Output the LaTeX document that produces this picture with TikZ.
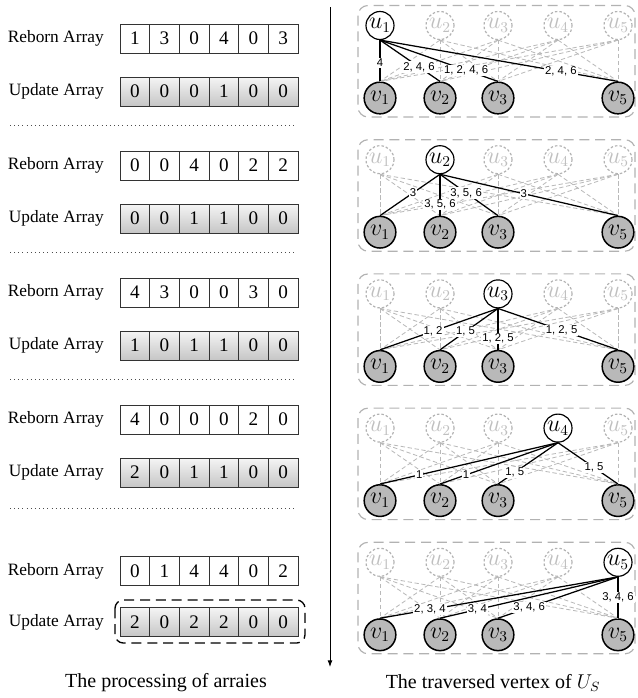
\documentclass[tikz,border=0pt]{standalone}
\usepackage{fontspec}
\setmainfont{Liberation Serif}
\newfontfamily\edgefont{Liberation Sans}
\usetikzlibrary{positioning}
\usetikzlibrary{arrows.meta}

\tikzset{
	cell/.style={draw=black!80, line width=0.5pt, minimum width=17.8pt, minimum height=17.4pt, inner sep=0pt, font=\fontsize{11.5}{12}\selectfont},
	rcell/.style={cell, fill=white},
	ucell/.style={cell, top color=gray!8, bottom color=gray!45},
	rowlabel/.style={anchor=east, inner sep=0pt, font=\fontsize{10.4}{12}\selectfont},
	sep/.style={line width=0.6pt, dash pattern=on 0.6pt off 1.9pt, black!70},
	uon/.style={circle, draw, line width=0.7pt, fill=white, minimum size=16.8pt, inner sep=0pt, font=\fontsize{13.5}{14}\selectfont},
	uoff/.style={uon, draw=gray!60, dash pattern=on 1.5pt off 1.2pt, text=gray!50},
	vnode/.style={circle, draw, line width=0.9pt, fill=gray!55, minimum size=19pt, inner sep=0pt, font=\fontsize{13.5}{14}\selectfont},
	gedge/.style={gray!55, line width=0.5pt, dash pattern=on 2.6pt off 1.6pt},
	bedge/.style={line width=0.75pt},
	elab/.style={fill=white, inner sep=0.6pt, font=\edgefont\fontsize{6.8}{7}\selectfont},
	panel/.style={gray!60, line width=0.7pt, dash pattern=on 6pt off 3.5pt, rounded corners=6pt},
	caption/.style={font=\fontsize{12}{14}\selectfont},
}

\begin{document}
\begin{tikzpicture}[x=0.6pt, y=-0.6pt]
	\useasboundingbox (0,0) rectangle (637,698);

	\foreach \k/\ry/\uy/\rv/\uv in {1/38.5/91.5/{1,3,0,4,0,3}/{0,0,0,1,0,0}, 2/165.5/218.5/{0,0,4,0,2,2}/{0,0,1,1,0,0}, 3/292.5/345.5/{4,3,0,0,3,0}/{1,0,1,1,0,0}, 4/419.5/472.5/{4,0,0,0,2,0}/{2,0,1,1,0,0}, 5/571/622/{0,1,4,4,0,2}/{2,0,2,2,0,0}}{
		\node[rowlabel] (rl\k) at (104,\ry) {Reborn Array};
		\node[rowlabel] (ul\k) at (104,\uy) {Update Array};
		\foreach \val [count=\i] in \rv
			\node[rcell] (r\k\i) at ({120+29.67*(\i-0.5)},\ry) {\val};
		\foreach \val [count=\i] in \uv
			\node[ucell] (w\k\i) at ({120+29.67*(\i-0.5)},\uy) {\val};
	}
	\foreach \y in {125,252,379,508}
		\draw[sep] (10,\y) -- (297,\y);
	\draw[line width=0.8pt, dash pattern=on 6pt off 3.5pt, rounded corners=5pt] (115,600) rectangle (305,643);

	\coordinate (atop) at (330,7);
	\coordinate (abot) at (330,667);
	\draw[-{Latex[length=4pt,width=3pt]}, line width=0.6pt] (atop) -- (abot);

	\foreach \k in {1,...,5}{
		\pgfmathsetmacro{\yu}{25.5+134.2*(\k-1)}
		\pgfmathsetmacro{\yv}{\yu+72.5}
		\draw[panel] (358,\yu-20) rectangle (635,\yv+19);
		\foreach \i/\xx in {1/380,2/440,3/498,4/558,5/618}{
			\ifnum\i=\k \def\ust{uon}\else\def\ust{uoff}\fi
			\node[\ust] (u\k\i) at (\xx,\yu) {$u_{\i}$};
		}
		\foreach \j/\xx in {1/380,2/440,3/498,5/618}
			\node[vnode] (v\k\j) at (\xx,\yv) {$v_{\j}$};
		\foreach \i in {1,...,5}{
			\ifnum\i=\k\else
				\foreach \j in {1,2,3,5}
					\draw[gedge] (u\k\i.south) -- (v\k\j.north);
			\fi
		}
	}

	\foreach \k/\j/\p/\t in {1/1/.55/4, 1/2/.65/{2, 4, 6}, 1/3/.73/{1, 2, 4, 6}, 1/5/.76/{2, 4, 6},
		2/1/.45/3, 2/2/.73/{3, 5, 6}, 2/3/.45/{3, 5, 6}, 2/5/.47/3,
		3/1/.55/{1, 2}, 3/2/.56/{1, 5}, 3/3/.72/{1, 2, 5}, 3/5/.53/{1, 2, 5},
		4/1/.78/1, 4/2/.78/1, 4/3/.72/{1, 5}, 4/5/.6/{1, 5},
		5/1/.79/{2, 3, 4}, 5/2/.79/{3, 4}, 5/3/.74/{3, 4, 6}, 5/5/.5/{3, 4, 6}}
		\draw[bedge] (u\k\k.south) -- (v\k\j.north) node[elab, pos=\p] {\t};

	\node[caption] (capl) at (166,683) {The processing of arraies};
	\node[caption] (capr) at (493,683) {The traversed vertex of $U_S$};
\end{tikzpicture}
\end{document}
